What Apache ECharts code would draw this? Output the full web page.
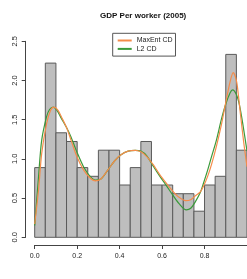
<!DOCTYPE html>
<html>
<head>
<meta charset="utf-8">
<script src="https://cdn.jsdelivr.net/npm/echarts@6/dist/echarts.min.js"></script>
<style>html,body{margin:0;padding:0;background:#fff}#c{width:247px;height:279px}</style>
</head>
<body>
<div id="c"></div>
<script>
// Histogram bins (density scale)
const breaks = [0,0.05,0.10,0.15,0.20,0.25,0.30,0.35,0.40,0.45,0.50,0.55,0.60,0.65,0.70,0.75,0.80,0.85,0.90,0.95,1.00];
const density = [0.889,2.222,1.333,1.222,0.889,0.778,1.111,1.111,0.667,0.889,1.222,0.667,0.667,0.556,0.556,0.333,0.667,0.778,2.333,1.111];

// MaxEnt CD curve
const maxentX = [0,0.018,0.033,0.056,0.075,0.091,0.11,0.125,0.15,0.171,0.2,0.23,0.26,0.285,0.31,0.345,0.375,0.405,0.44,0.474,0.5,0.528,0.56,0.589,0.62,0.65,0.68,0.711,0.735,0.757,0.78,0.795,0.815,0.833,0.855,0.879,0.9,0.92,0.935,0.95,0.96,0.97,0.985,1.0];
const maxentY = [0.17,0.60,1.07,1.45,1.62,1.66,1.62,1.54,1.40,1.24,1.02,0.86,0.76,0.72,0.74,0.86,0.97,1.05,1.10,1.11,1.09,1.03,0.92,0.80,0.69,0.59,0.51,0.467,0.48,0.53,0.58,0.65,0.78,0.93,1.15,1.43,1.72,1.98,2.10,2.00,1.80,1.55,1.20,0.90];

// L2 CD curve
const l2X = [0,0.018,0.033,0.056,0.07,0.087,0.105,0.125,0.15,0.171,0.2,0.23,0.26,0.285,0.31,0.345,0.375,0.405,0.44,0.474,0.5,0.528,0.56,0.589,0.62,0.65,0.68,0.714,0.735,0.757,0.78,0.795,0.815,0.833,0.855,0.879,0.9,0.92,0.932,0.95,0.965,0.98,1.0];
const l2Y = [0.15,0.77,1.24,1.54,1.63,1.66,1.62,1.52,1.40,1.28,1.08,0.90,0.78,0.73,0.74,0.86,0.97,1.05,1.10,1.11,1.10,1.04,0.90,0.78,0.66,0.54,0.43,0.35,0.37,0.455,0.57,0.69,0.86,1.03,1.23,1.50,1.70,1.84,1.88,1.82,1.68,1.45,1.10];

const yTicks = [0,0.5,1.0,1.5,2.0,2.5];
const xTicks = [0,0.2,0.4,0.6,0.8,1.0];

const histData = density.map((d,i)=>[breaks[i], breaks[i+1], d]);
const zip = (xs,ys)=>xs.map((x,i)=>[x,ys[i]]);

const FONT = '"Liberation Sans", Arial, Helvetica, sans-serif';
const chart = echarts.init(document.getElementById('c'), null, {renderer:'canvas'});
chart.setOption({
  animation:false,
  backgroundColor:'#fff',
  title:{
    text:'GDP Per worker (2005)',
    left:100, top:12, padding:0,
    textStyle:{fontSize:8, fontWeight:'bold', color:'#111', fontFamily:FONT}
  },
  legend:{
    orient:'vertical',
    left:112.7, top:33.3,
    padding:[3,3,3,5],
    itemGap:0,
    itemWidth:14, itemHeight:2,
    icon:'rect',
    backgroundColor:'#fff',
    borderColor:'#555', borderWidth:1, borderRadius:0,
    textStyle:{fontSize:7, color:'#222', fontFamily:FONT, lineHeight:8.4},
    data:['MaxEnt CD','L2 CD']
  },
  grid:{left:34.7, top:41.3, width:218.5, height:196, containLabel:false},
  xAxis:{
    type:'value', min:0, max:1, interval:0.2, offset:7.7, position:'bottom',
    axisLine:{show:true, onZero:false, lineStyle:{color:'#444', width:1}},
    axisTick:{show:true, length:4, lineStyle:{color:'#444'}},
    axisLabel:{fontSize:7, color:'#222', fontFamily:FONT, margin:8, showMaxLabel:false,
      formatter:v=>v.toFixed(1)},
    splitLine:{show:false}
  },
  yAxis:{
    type:'value', min:0, max:2.5, interval:0.5, offset:9, position:'left',
    axisLine:{show:true, onZero:false, lineStyle:{color:'#444', width:1}},
    axisTick:{show:true, length:4, lineStyle:{color:'#444'}},
    axisLabel:{fontSize:7.5, color:'#222', fontFamily:FONT, margin:7, rotate:90,
      formatter:v=>v.toFixed(1)},
    splitLine:{show:false}
  },
  series:[
    {
      type:'custom', name:'hist', z:1, clip:false,
      data:histData,
      renderItem:(params, api)=>{
        const p0 = api.coord([api.value(0), api.value(2)]);
        const p1 = api.coord([api.value(1), 0]);
        return {type:'rect',
          shape:{x:p0[0], y:p0[1], width:p1[0]-p0[0], height:p1[1]-p0[1]},
          style:{fill:'#BEBEBE', stroke:'#5a5a5a', lineWidth:1}};
      }
    },
    {
      type:'line', name:'MaxEnt CD', z:3, data:zip(maxentX,maxentY),
      showSymbol:false, smooth:0.3,
      lineStyle:{color:'#F58C4A', width:1.2}, itemStyle:{color:'#F58C4A'}
    },
    {
      type:'line', name:'L2 CD', z:2, data:zip(l2X,l2Y),
      showSymbol:false, smooth:0.3,
      lineStyle:{color:'#3A9A3A', width:1.2}, itemStyle:{color:'#3A9A3A'}
    }
  ]
});
</script>
</body>
</html>
